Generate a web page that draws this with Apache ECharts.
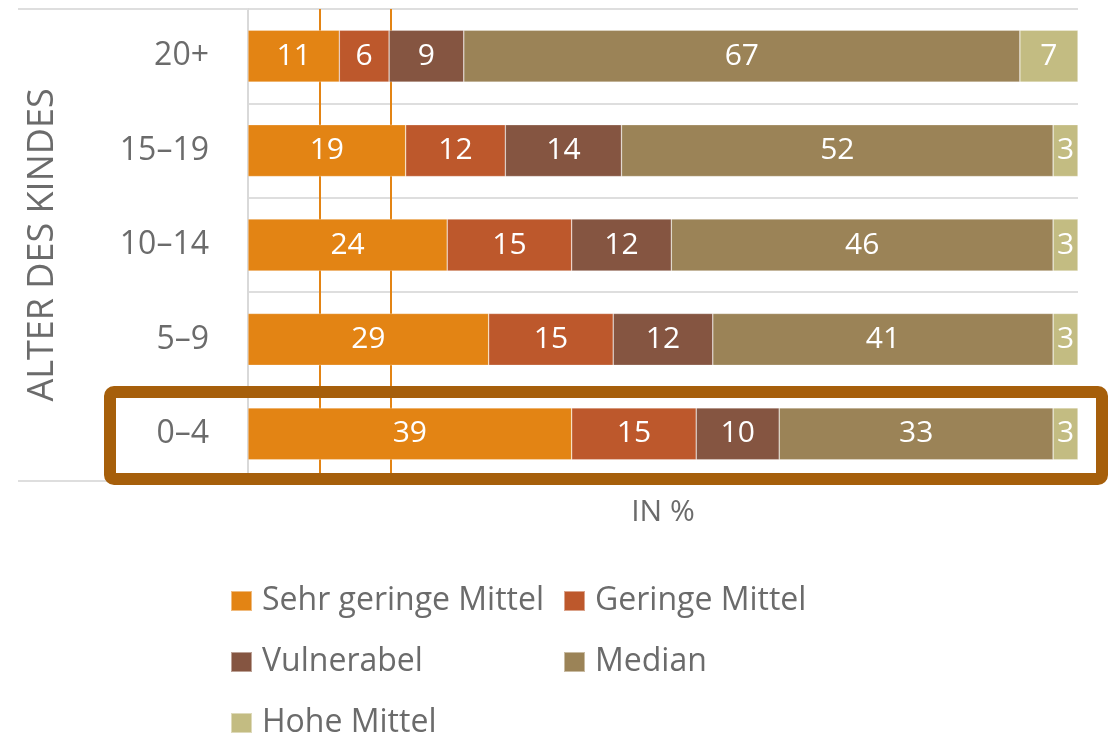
<!DOCTYPE html>
<html>
<head>
<meta charset="utf-8">
<script src="https://cdn.jsdelivr.net/npm/echarts@6/dist/echarts.min.js"></script>
<style>
html, body { margin: 0; padding: 0; background: #fff; }
#chart { width: 1109px; height: 735px; }
</style>
</head>
<body>
<div id="chart"></div>
<script>
// Altersgruppen von unten nach oben
var ageGroups = ['0–4', '5–9', '10–14', '15–19', '20+'];
var seriesNames = ['Sehr geringe Mittel', 'Geringe Mittel', 'Vulnerabel', 'Median', 'Hohe Mittel'];
var sehrGering = [39, 29, 24, 19, 11];
var gering = [15, 15, 15, 12, 6];
var vulnerabel = [10, 12, 12, 14, 9];
var median = [33, 41, 46, 52, 67];
var hoheMittel = [3, 3, 3, 3, 7];
// senkrechte Linien (in %)
var thresholds = [8.6, 17.2];

var colors = ['#e38414', '#bd582c', '#855541', '#9b8357', '#c3bc82'];
var font = 'Open Sans';
var grey = '#6b6b6b';

var chart = echarts.init(document.getElementById('chart'));
var values = [sehrGering, gering, vulnerabel, median, hoheMittel];

var series = seriesNames.map(function (name, i) {
    var s = {
        name: name,
        type: 'bar',
        stack: 'total',
        barCategoryGap: '45%',
        data: values[i],
        itemStyle: {
            color: colors[i],
            borderColor: 'rgba(255,255,255,0.45)',
            borderWidth: 0.6
        },
        label: {
            show: true,
            color: '#fff',
            fontSize: 30,
            fontFamily: font
        },
        emphasis: { disabled: true }
    };
    if (i === 0) {
        s.markLine = {
            silent: true,
            symbol: 'none',
            z: 1,
            label: { show: false },
            lineStyle: { color: '#e38414', width: 2, type: 'solid' },
            data: thresholds.map(function (v) { return { xAxis: v }; })
        };
    }
    return s;
});

// Legende: zwei Spalten, drei Zeilen
var legendCols = [230, 563];
var legendRows = [585, 646, 707];
var legends = seriesNames.map(function (name, i) {
    return {
        data: [name],
        left: legendCols[i % 2],
        top: legendRows[Math.floor(i / 2)],
        padding: 0,
        itemWidth: 21,
        itemHeight: 20,
        icon: 'rect',
        selectedMode: false,
        textStyle: { fontSize: 32, color: grey, fontFamily: font, padding: [0, 0, 0, 5] }
    };
});

var option = {
    animation: false,
    textStyle: { fontFamily: font },
    grid: { left: 248, right: 31, top: 9, bottom: 254 },
    xAxis: {
        type: 'value',
        min: 0,
        max: 100,
        name: 'IN %',
        nameLocation: 'middle',
        nameGap: 16,
        nameTextStyle: { fontSize: 30, color: grey, fontFamily: font, verticalAlign: 'top' },
        axisLabel: { show: false },
        axisLine: { show: false },
        axisTick: { show: false },
        splitLine: { show: false }
    },
    yAxis: {
        type: 'category',
        data: ageGroups,
        name: 'ALTER DES KINDES',
        nameLocation: 'middle',
        nameRotate: 90,
        nameGap: 187,
        nameTextStyle: { fontSize: 36, color: grey, fontFamily: font },
        axisLine: { show: true, lineStyle: { color: '#d9d9d9', width: 2 } },
        axisTick: { show: false },
        axisLabel: { fontSize: 32, color: grey, fontFamily: font, margin: 39 },
        splitLine: { show: true, lineStyle: { color: '#dedede', width: 2 } }
    },
    legend: legends,
    graphic: [
        { type: 'line', z: 50, shape: { x1: 18, y1: 9, x2: 248, y2: 9 }, style: { stroke: '#dedede', lineWidth: 2 } },
        { type: 'line', z: 50, shape: { x1: 18, y1: 481, x2: 248, y2: 481 }, style: { stroke: '#dedede', lineWidth: 2 } },
        {
            type: 'rect',
            z: 100,
            shape: { x: 110, y: 392, width: 992, height: 87, r: 4 },
            style: { fill: null, stroke: '#a65f0b', lineWidth: 12 }
        }
    ],
    series: series
};

chart.setOption(option);
</script>
</body>
</html>
